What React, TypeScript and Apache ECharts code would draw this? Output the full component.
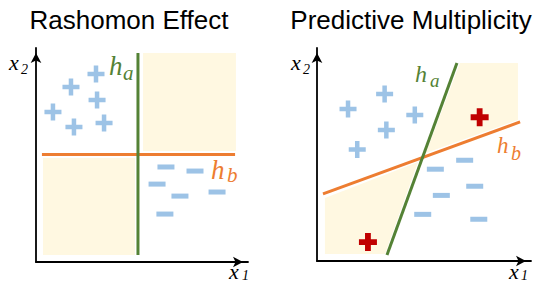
import React, { useEffect, useRef } from "react";
import * as echarts from "echarts";

type P = [number, number];

// Panel 1: Rashomon Effect
const LEFT_PLUS: P[] = [[28.3, 87.9], [16.5, 81.8], [28.8, 75.7], [8.0, 70.1], [17.9, 63.1], [32.1, 65.0]];
const LEFT_MINUS: P[] = [[61.3, 44.4], [75.0, 42.5], [57.1, 36.4], [67.9, 30.8], [85.4, 32.7], [60.8, 22.4]];
const LEFT_HA: P[] = [[48.1, 97.7], [48.1, 3.3]];
const LEFT_HB: P[] = [[2.8, 50.2], [93.9, 50.2]];
const LEFT_REGION_TR: P[] = [[50.5, 97.7], [94.3, 97.7], [94.3, 51.9], [50.5, 51.9]];
const LEFT_REGION_BL: P[] = [[3.3, 48.6], [46.7, 48.6], [46.7, 3.3], [3.3, 3.3]];

// Panel 2: Predictive Multiplicity
const RIGHT_PLUS: P[] = [[14.5, 71.4], [31.6, 78.4], [45.7, 68.5], [32.4, 61.5], [18.8, 52.4]];
const RIGHT_CONFLICT: P[] = [[76.0, 67.5], [23.8, 8.9]];
const RIGHT_MINUS: P[] = [[69.0, 47.3], [55.3, 43.1], [73.7, 35.1], [58.1, 30.8], [49.4, 21.9], [75.6, 19.6]];
const RIGHT_HA: P[] = [[65.4, 93.0], [32.7, 2.8]];
const RIGHT_HB: P[] = [[2.8, 31.5], [94.9, 65.3]];
const RIGHT_REGION_TR: P[] = [[66.8, 93.0], [93.9, 93.0], [93.9, 66.2], [50.9, 50.7]];
const RIGHT_REGION_BL: P[] = [[3.7, 29.6], [47.2, 46.5], [31.8, 3.3], [3.7, 3.3]];

const TITLES = ["Rashomon Effect", "Predictive Multiplicity"];

const BLUE = "#9DC3E6";
const GREEN = "#548235";
const ORANGE = "#ED7D31";
const RED = "#C00000";
const SHADE = "#FFF8E1";

const PLUS_PATH = "path://M0,6.25H6.25V0H10.75V6.25H17V10.75H10.75V17H6.25V10.75H0Z";
const PLUS_BOLD = "path://M0,5.75H5.75V0H11.25V5.75H17V11.25H11.25V17H5.75V11.25H0Z";

const polygonSeries = (pts: P[], idx: number) => ({
  type: "custom",
  xAxisIndex: idx,
  yAxisIndex: idx,
  z: 1,
  silent: true,
  clip: false,
  data: pts,
  renderItem: (params: any, api: any) => {
    if (params.dataIndex !== 0) return null;
    const points = pts.map((p) => api.coord(p));
    return { type: "polygon", shape: { points }, style: { fill: SHADE } };
  },
});

const lineSeries = (pts: P[], idx: number, color: string) => ({
  type: "line",
  xAxisIndex: idx,
  yAxisIndex: idx,
  z: 2,
  silent: true,
  symbol: "none",
  data: pts,
  lineStyle: { color, width: 3 },
});

const scatterSeries = (pts: P[], idx: number, symbol: string, size: any, color: string) => ({
  type: "scatter",
  xAxisIndex: idx,
  yAxisIndex: idx,
  z: 3,
  silent: true,
  symbol,
  symbolSize: size,
  data: pts,
  itemStyle: { color, opacity: 1 },
});

const axisBase = (idx: number) => ({
  gridIndex: idx,
  type: "value",
  min: 0,
  max: 100,
  axisLine: {
    show: true,
    onZero: false,
    lineStyle: { color: "#000", width: 1.8 },
    symbol: ["none", "arrow"],
    symbolSize: [8, 10],
    symbolOffset: [0, -5],
  },
  axisTick: { show: false },
  axisLabel: { show: false },
  splitLine: { show: false },
});

// text placed with middle alignment: y = baseline - 0.3375*size
const mathText = (text: string, x: number, baseline: number, size: number, color: string) => ({
  type: "text",
  x,
  y: baseline - 0.3375 * size,
  silent: true,
  style: {
    text,
    fill: color,
    fontFamily: "Liberation Serif",
    fontStyle: "italic",
    fontSize: size,
    textAlign: "left",
    textVerticalAlign: "middle",
    align: "left",
    verticalAlign: "middle",
  },
});

const titleText = (text: string, cx: number) => ({
  type: "text",
  x: cx,
  y: 29 - 0.3465 * 26,
  silent: true,
  style: {
    text,
    fill: "#000",
    fontFamily: "Liberation Sans",
    fontSize: 26,
    textAlign: "center",
    textVerticalAlign: "middle",
    align: "center",
    verticalAlign: "middle",
  },
});

export default function App() {
  const ref = useRef<HTMLDivElement>(null);
  useEffect(() => {
    if (!ref.current) return;
    const chart = echarts.init(ref.current, undefined, { renderer: "svg" });
    chart.setOption({
      animation: false,
      backgroundColor: "#fff",
      grid: [
        { left: 36, top: 48, width: 212, height: 214 },
        { left: 317, top: 48, width: 214, height: 213 },
      ],
      xAxis: [axisBase(0), axisBase(1)],
      yAxis: [axisBase(0), axisBase(1)],
      series: [
        polygonSeries(LEFT_REGION_TR, 0),
        polygonSeries(LEFT_REGION_BL, 0),
        lineSeries(LEFT_HB, 0, ORANGE),
        lineSeries(LEFT_HA, 0, GREEN),
        scatterSeries(LEFT_PLUS, 0, PLUS_PATH, 17, BLUE),
        scatterSeries(LEFT_MINUS, 0, "rect", [17, 5], BLUE),
        polygonSeries(RIGHT_REGION_TR, 1),
        polygonSeries(RIGHT_REGION_BL, 1),
        lineSeries(RIGHT_HB, 1, ORANGE),
        lineSeries(RIGHT_HA, 1, GREEN),
        scatterSeries(RIGHT_PLUS, 1, PLUS_PATH, 17, BLUE),
        scatterSeries(RIGHT_CONFLICT, 1, PLUS_BOLD, 18, RED),
        scatterSeries(RIGHT_MINUS, 1, "rect", [17, 5], BLUE),
      ],
      graphic: [
        titleText(TITLES[0], 129),
        titleText(TITLES[1], 411),
        // left panel labels
        mathText("x", 9, 70, 22, "#000"),
        mathText("2", 21, 74, 14, "#000"),
        mathText("x", 229, 279, 22, "#000"),
        mathText("1", 242, 280.5, 14, "#000"),
        mathText("h", 109, 75, 27, GREEN),
        mathText("a", 123, 80, 21, GREEN),
        mathText("h", 211, 179, 27, ORANGE),
        mathText("b", 227, 182, 21, ORANGE),
        // right panel labels
        mathText("x", 291, 70, 22, "#000"),
        mathText("2", 303, 74, 14, "#000"),
        mathText("x", 509, 279, 22, "#000"),
        mathText("1", 521, 280.5, 14, "#000"),
        mathText("h", 415, 82, 24, GREEN),
        mathText("a", 430, 87, 19, GREEN),
        mathText("h", 497, 153, 23, ORANGE),
        mathText("b", 511, 160, 20, ORANGE),
      ],
    });
    return () => chart.dispose();
  }, []);
  return (
    <div
      ref={ref}
      style={{ position: "absolute", left: 0, top: 0, width: 537, height: 284 }}
    />
  );
}
